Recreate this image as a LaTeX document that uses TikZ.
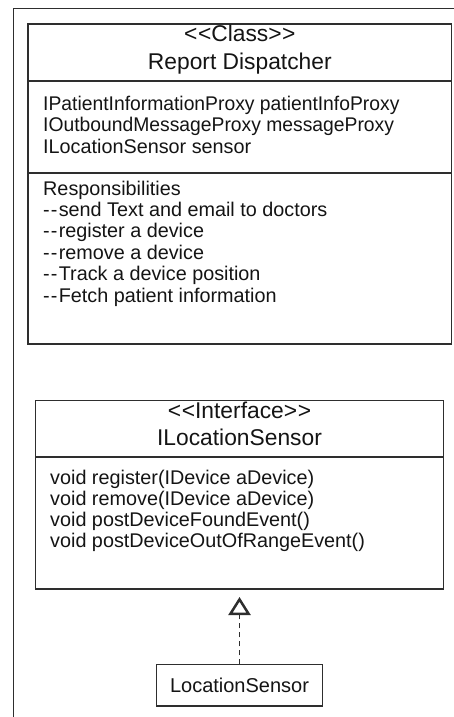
\documentclass[tikz,border=0pt]{standalone}
\usepackage{fontspec}
\setmainfont{Liberation Sans}
\usetikzlibrary{arrows.meta}

% double hyphen prefix used in the responsibilities list
\newcommand{\dd}{-\kern1.2pt-\kern1.2pt}
% stereotype guillemets written as separate angle brackets
\newcommand{\stereo}[1]{<\kern0.6pt<#1>\kern0.6pt>}

\begin{document}
\begin{tikzpicture}[x=1pt,y=-1pt,
  outline/.style={draw=black!82, line width=1.35pt},
  umlbox/.style={outline, rectangle, inner sep=0pt, outer sep=0pt},
  body/.style={font=\fontsize{19.8}{19.8}\selectfont, text=black!92, inner sep=0pt, anchor=base west},
  hdr/.style={font=\fontsize{22.8}{22.8}\selectfont, text=black!92, inner sep=0pt, anchor=base},
  realize/.style={outline, dash pattern=on 5pt off 4pt,
    -{Triangle[open, width=22pt, length=18pt, line width=2.5pt]}, shorten >=8pt}
]
\useasboundingbox (0,0) rectangle (454,717);
\clip (0,0) rectangle (454,717);

% enclosing frame, running off the right and bottom edges
\draw[outline] (13.4,720) -- (13.4,8.7) -- (460,8.7);

% ---- Report Dispatcher class ----
\node[umlbox, minimum width=423.7pt, minimum height=320pt] (rd) at (239.85,184) {};
\draw[outline] (rd.west |- 0,81) -- (rd.east |- 0,81);
\draw[outline] (rd.west |- 0,173) -- (rd.east |- 0,173);
\node[hdr] (rdst) at (239.85,42) {\stereo{Class}};
\node[hdr] (rdname) at (239.85,70) {Report Dispatcher};
\node[body] (a1) at (43,110)   {\scalebox{0.975}[1]{IPatientInformationProxy patientInfoProxy}};
\node[body] (a2) at (43,131.5) {\scalebox{0.975}[1]{IOutboundMessageProxy messageProxy}};
\node[body] (a3) at (43,153)   {ILocationSensor sensor};
\node[body] (r0) at (43,195)   {Responsibilities};
\node[body] (r1) at (43,216.4) {\dd send Text and email to doctors};
\node[body] (r2) at (43,237.8) {\dd register a device};
\node[body] (r3) at (43,259.2) {\dd remove a device};
\node[body] (r4) at (43,280.6) {\dd Track a device position};
\node[body] (r5) at (43,302)   {\dd Fetch patient information};

% ---- ILocationSensor interface ----
\node[umlbox, minimum width=407.6pt, minimum height=188.3pt] (is) at (239.5,494.85) {};
\draw[outline] (is.west |- 0,457) -- (is.east |- 0,457);
\node[hdr] (isst) at (239.5,418) {\stereo{Interface}};
\node[hdr] (isname) at (239.5,445) {ILocationSensor};
\node[body] (m1) at (50,484) {void register(IDevice aDevice)};
\node[body] (m2) at (50,505) {void remove(IDevice aDevice)};
\node[body] (m3) at (50,526) {void postDeviceFoundEvent()};
\node[body] (m4) at (50,547) {void postDeviceOutOfRangeEvent()};

% ---- LocationSensor implementation ----
\node[body, anchor=base, font=\fontsize{20}{20}\selectfont] (lsname) at (239.5,692) {LocationSensor};
\node[umlbox, minimum width=165.6pt, minimum height=41.7pt] (ls) at (239.5,685.15) {};

% realization
\draw[realize] (ls.north) -- (is.south);
\end{tikzpicture}
\end{document}
